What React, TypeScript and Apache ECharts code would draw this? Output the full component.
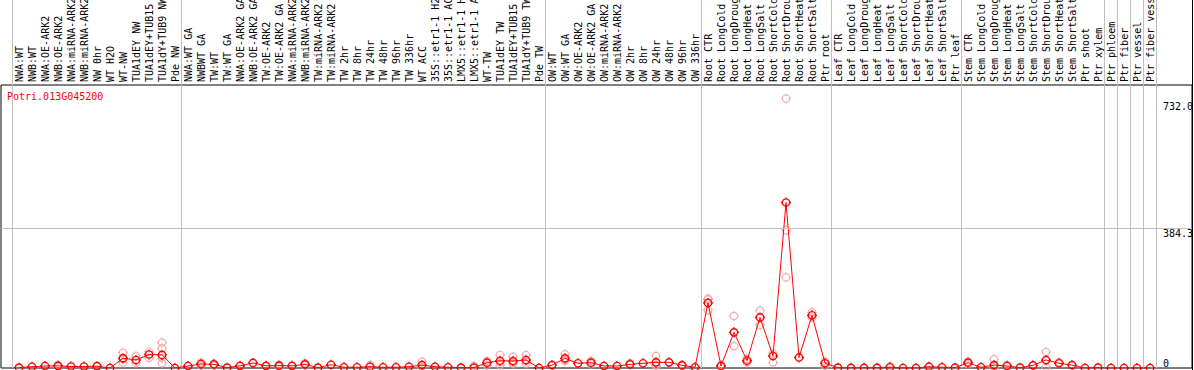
import React, { useEffect, useRef } from "react";
import * as echarts from "echarts";

const geneTitle = "Potri.013G045200";

const categories = [
  "NWA:WT", "NWB:WT", "NWA:OE-ARK2", "NWB:OE-ARK2", "NWA:miRNA-ARK2", "NWB:miRNA-ARK2", "NW 0hr", "WT H2O", "WT-NW", "TUA1dEY NW", "TUA1dEY+TUB15 NW", "TUA1dY+TUB9 NW", "Pde NW",
  "NWA:WT GA", "NWBWT GA", "TW:WT", "TW:WT GA", "NWA:OE-ARK2 GA", "NWB:OE-ARK2 GA", "TW:OE-ARK2", "TW:OE-ARK2 GA", "NWA:miRNA-ARK2", "NWB:miRNA-ARK2", "TW:miRNA-ARK2", "TW:miRNA-ARK2", "TW 2hr", "TW 8hr", "TW 24hr", "TW 48hr", "TW 96hr", "TW 336hr", "WT ACC", "35S::etr1-1 H2O", "35S::etr1-1 ACC", "LMX5::etr1-1 H2O", "LMX5::etr1-1 ACC", "WT-TW", "TUA1dEY TW", "TUA1dEY+TUB15 TW", "TUA1dY+TUB9 TW", "Pde TW",
  "OW:WT", "OW:WT GA", "OW:OE-ARK2", "OW:OE-ARK2 GA", "OW:miRNA-ARK2", "OW:miRNA-ARK2", "OW 2hr", "OW 8hr", "OW 24hr", "OW 48hr", "OW 96hr", "OW 336hr",
  "Root CTR", "Root LongCold", "Root LongDrought", "Root LongHeat", "Root LongSalt", "Root ShortCold", "Root ShortDrought", "Root ShortHeat", "Root ShortSalt", "Ptr root",
  "Leaf CTR", "Leaf LongCold", "Leaf LongDrought", "Leaf LongHeat", "Leaf LongSalt", "Leaf ShortCold", "Leaf ShortDrought", "Leaf ShortHeat", "Leaf ShortSalt", "Ptr leaf",
  "Stem CTR", "Stem LongCold", "Stem LongDrought", "Stem LongHeat", "Stem LongSalt", "Stem ShortCold", "Stem ShortDrought", "Stem ShortHeat", "Stem ShortSalt", "Ptr shoot", "Ptr xylem",
  "Ptr phloem", "Ptr fiber", "Ptr vessel", "Ptr fiber vessel",
];

const meanValues = [
  1, 3.5, 5.5, 6, 4, 4, 5, 0, 27, 22, 37, 36, 0,
  5.5, 11, 10, 1, 6, 14, 6, 6.5, 6, 10, 1, 9, 2, 2, 3.5, 2, 2, 3.5, 8, 3.5, 2, 1, 1, 14.6, 20, 19, 22, 0,
  8, 26.5, 13, 14.6, 5.5, 5.5, 10, 13, 15.6, 15.6, 7.3, 2,
  179, 5.5, 98, 20, 139, 33, 455, 29, 145, 13,
  1, 0.5, 0.5, 0.5, 2, 0, 0, 3.5, 2, 1,
  14.6, 2, 8, 5.5, 1, 7.3, 22, 13, 8, 0, 1,
  0, 0, 0, 0,
];

const replicateValues: [number, number][] = [
  [3, 8], [3, 4], [8, 42], [8, 15], [8, 24], [9, 33], [9, 15], [10, 45], [10, 28],
  [11, 70], [11, 54], [11, 28], [11, 13], [14, 15], [14, 6], [15, 12], [15, 7], [20, 9], [20, 4],
  [22, 13], [22, 7], [27, 8], [31, 17], [31, 3], [35, 6], [36, 19], [36, 7],
  [37, 36], [37, 8], [37, 16], [38, 31], [38, 12], [38, 14], [39, 36], [39, 12], [39, 18],
  [42, 38], [42, 20], [42, 22], [44, 20], [44, 10], [47, 13], [49, 33], [49, 6], [49, 8], [51, 9],
  [53, 191], [53, 159], [53, 188], [54, 9], [55, 143], [55, 60], [56, 25], [56, 15],
  [57, 158], [57, 118], [58, 15], [58, 40], [59, 741], [59, 379], [59, 249],
  [61, 153], [61, 139], [62, 6], [62, 18], [67, 4], [70, 5], [73, 18], [73, 10],
  [75, 24], [75, 3], [76, 8], [79, 44], [79, 3], [79, 20], [80, 16],
];

const groupStarts = [0, 13, 41, 53, 63, 73, 84, 85, 86, 87];
const yTickValues = [0, 384.3, 732.0];
const yTickLabels = ["0", "384.3", "732.0"];

const FONT = "DejaVu Sans Mono";
const MARK =
  "path://M0,-4C2.21,-4 4,-2.21 4,0C4,2.21 2.21,4 0,4C-2.21,4 -4,2.21 -4,0C-4,-2.21 -2.21,-4 0,-4Z" +
  "M0,-5.5L0,-4M0,4L0,5.5M-5.5,0L-4,0M4,0L5.5,0";

export default function App() {
  const ref = useRef<HTMLDivElement>(null);
  useEffect(() => {
    document.body.style.margin = "0";
    const chart = echarts.init(ref.current!, null, { renderer: "svg" });
    const frameMax = 778;
    const frameTop = 85;
    const bottom = 2;
    const height = 370;
    const dataMax = (frameMax * (height - bottom)) / (height - bottom - frameTop);
    const starts = new Set(groupStarts);
    chart.setOption({
      animation: false,
      backgroundColor: "#ffffff",
      title: {
        text: geneTitle,
        left: 7,
        top: 91,
        padding: 0,
        textStyle: { color: "#ff0000", fontSize: 10, fontWeight: "normal", fontFamily: FONT },
      },
      grid: [
        {
          left: 1, right: 2, top: frameTop, bottom, show: true, borderColor: "#000", borderWidth: 1,
          backgroundColor: "transparent", outerBoundsMode: "none", containLabel: false,
        },
        { left: 12.5, right: 37.5, top: 0, bottom, outerBoundsMode: "none", containLabel: false },
      ],
      xAxis: [
        { type: "value", gridIndex: 0, min: 0, max: 1, show: false },
        {
          type: "category",
          gridIndex: 1,
          data: categories,
          position: "top",
          offset: -frameTop,
          boundaryGap: true,
          axisLine: { show: false },
          axisTick: { show: false },
          axisLabel: { interval: 0, rotate: 90, margin: 3, fontSize: 10, fontFamily: FONT, color: "#000", hideOverlap: false },
          splitLine: {
            show: true,
            interval: (idx: number) => starts.has(idx),
            lineStyle: { color: "#c0c0c0", width: 1 },
          },
        },
      ],
      yAxis: [
        {
          type: "value",
          gridIndex: 0,
          min: 0,
          max: frameMax,
          position: "right",
          axisLine: { show: false },
          axisTick: { show: false },
          splitLine: { show: false },
          axisLabel: {
            inside: true,
            customValues: yTickValues,
            formatter: (v: number) => yTickLabels[yTickValues.indexOf(v)] ?? String(v),
            align: "left",
            margin: 29,
            verticalAlign: "top",
            verticalAlignMinLabel: "bottom",
            fontSize: 10,
            fontFamily: FONT,
            color: "#000",
          },
        },
        { type: "value", gridIndex: 1, min: 0, max: dataMax, show: false },
      ],
      graphic: [
        { type: "line", shape: { x1: 1192.5, y1: 0, x2: 1192.5, y2: 370 }, style: { stroke: "#000", lineWidth: 1 } },
      ],
      series: [
        {
          type: "line",
          xAxisIndex: 0,
          yAxisIndex: 0,
          data: [],
          silent: true,
          markLine: {
            silent: true,
            symbol: "none",
            label: { show: false },
            lineStyle: { color: "#c0c0c0", type: "solid", width: 1 },
            data: [{ yAxis: 384.3 }],
          },
        },
        {
          type: "scatter",
          xAxisIndex: 1,
          yAxisIndex: 1,
          data: replicateValues,
          symbol: MARK,
          symbolSize: 10,
          itemStyle: { color: "rgba(255,255,255,0)", borderColor: "#f29a9a", borderWidth: 1.2 },
          z: 2,
        },
        {
          type: "line",
          xAxisIndex: 1,
          yAxisIndex: 1,
          data: meanValues,
          symbol: MARK,
          symbolSize: 10,
          showAllSymbol: true,
          lineStyle: { color: "#ff0000", width: 1 },
          itemStyle: { color: "rgba(255,255,255,0)", borderColor: "#ff0000", borderWidth: 1.4 },
          z: 3,
        },
      ],
    });
    return () => chart.dispose();
  }, []);
  return <div ref={ref} style={{ position: "absolute", left: 0, top: 0, width: 1194, height: 370 }} />;
}
